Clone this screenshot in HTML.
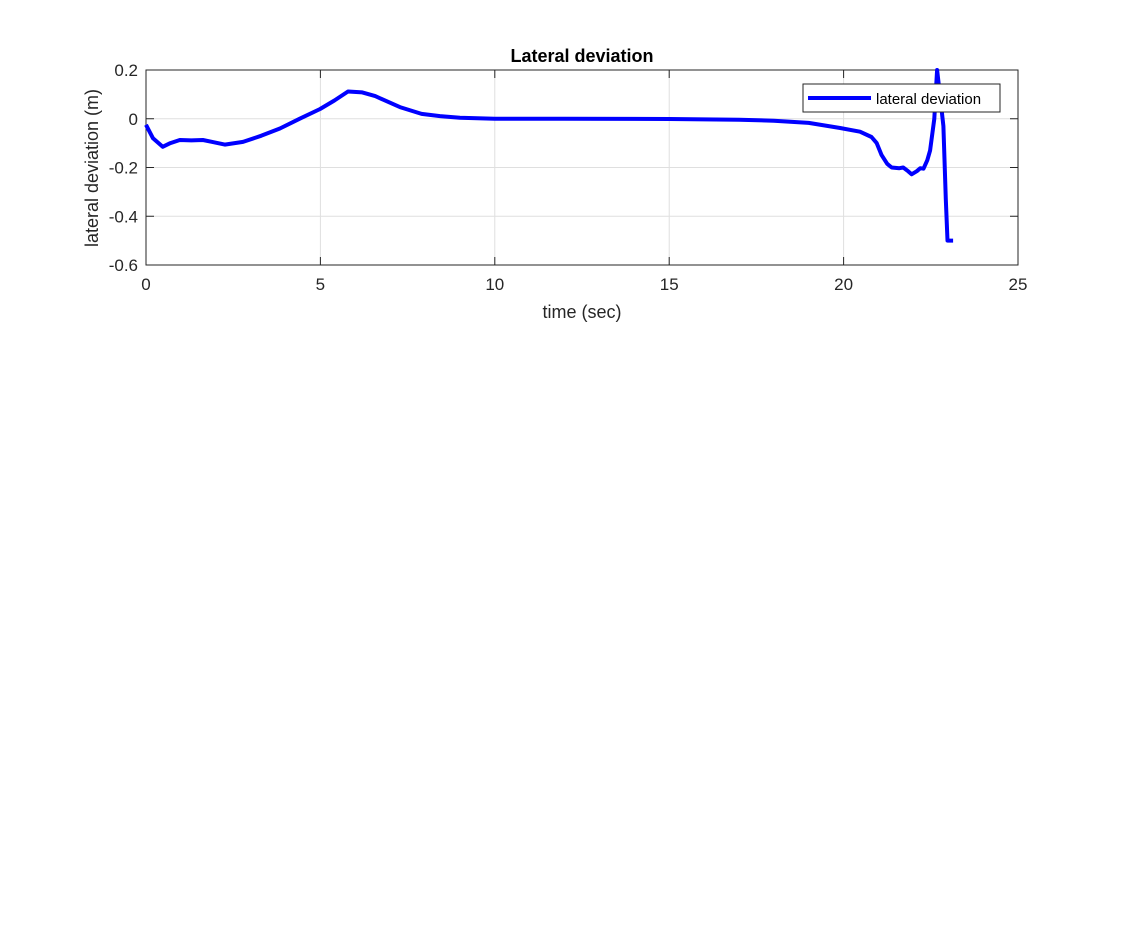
<!DOCTYPE html>
<html><head><meta charset="utf-8"><style>
body{margin:0;background:#fff;}
svg{display:block;font-family:"Liberation Sans",Arial,sans-serif;}
</style></head><body>
<svg width="1125" height="938">
<rect width="1125" height="938" fill="#fff"/>
<g id="plot"></g>
</svg>
<script>
const times=[0,0.2,0.48,0.7,0.97,1.3,1.63,1.9,2.26,2.78,3.3,3.84,4.4,4.99,5.4,5.79,6.2,6.57,7.28,7.9,8.43,9,10,12,15,17,18,19,19.9,20.47,20.8,20.95,21.09,21.25,21.38,21.6,21.71,21.85,21.95,22.1,22.2,22.29,22.4,22.48,22.6,22.68,22.76,22.86,22.93,22.98,23.14];
const values=[-0.025,-0.08,-0.115,-0.1,-0.087,-0.089,-0.087,-0.095,-0.106,-0.095,-0.07,-0.04,0,0.04,0.075,0.112,0.108,0.093,0.048,0.02,0.011,0.004,0,0,-0.001,-0.004,-0.008,-0.017,-0.038,-0.053,-0.075,-0.1,-0.149,-0.185,-0.2,-0.203,-0.2,-0.215,-0.228,-0.215,-0.203,-0.205,-0.17,-0.13,0.0,0.2,0.1,-0.03,-0.33,-0.5,-0.5];
const xTicks=[0,5,10,15,20,25];
const yTicks=[-0.6,-0.4,-0.2,0,0.2];
const yTickLabels=['-0.6','-0.4','-0.2','0','0.2'];
const L=146,R=1018,T=70,B=265;
const xs=t=>L+(t-0)/(25-0)*(R-L);
const ys=v=>B-(v+0.6)/0.8*(B-T);
const NS='http://www.w3.org/2000/svg';
const g=document.getElementById('plot');
function mk(tag,attrs,txt){const e=document.createElementNS(NS,tag);for(const k in attrs)e.setAttribute(k,attrs[k]);if(txt!==undefined)e.textContent=txt;g.appendChild(e);return e;}
// grid
xTicks.forEach(t=>{const e=mk('line',{x1:xs(t),x2:xs(t),y1:T,y2:B,stroke:'#dfdfdf','stroke-width':1});

});
yTicks.forEach(v=>{const e=mk('line',{x1:L,x2:R,y1:ys(v),y2:ys(v),stroke:'#dfdfdf','stroke-width':1});

});
// axes box
const box=mk('rect',{x:L,y:T,width:R-L,height:B-T,fill:'none',stroke:'#262626','stroke-width':1});


// ticks
xTicks.forEach(t=>{
mk('line',{x1:xs(t),x2:xs(t),y1:B,y2:B-8,stroke:'#262626'});
mk('line',{x1:xs(t),x2:xs(t),y1:T,y2:T+8,stroke:'#262626'});
const e=mk('text',{x:xs(t),y:B+25,'text-anchor':'middle','font-size':17,fill:'#262626'},String(t));

});
yTicks.forEach((v,i)=>{
mk('line',{x1:L,x2:L+8,y1:ys(v),y2:ys(v),stroke:'#262626'});
mk('line',{x1:R,x2:R-8,y1:ys(v),y2:ys(v),stroke:'#262626'});
const e=mk('text',{x:L-8,y:ys(v)+6,'text-anchor':'end','font-size':17,fill:'#262626'},yTickLabels[i]);

});
// line
const d=times.map((t,i)=>(i?'L':'M')+xs(t).toFixed(1)+','+ys(values[i]).toFixed(1)).join(' ');
const p=mk('path',{d:d,fill:'none',stroke:'#0000ff','stroke-width':4,'stroke-linejoin':'round'});


// title & labels
const ti=mk('text',{x:582,y:62,'text-anchor':'middle','font-size':18,'font-weight':'bold',fill:'#000'},'Lateral deviation');


const xl=mk('text',{x:582,y:318,'text-anchor':'middle','font-size':18,fill:'#262626'},'time (sec)');


const yl=mk('text',{x:0,y:0,'text-anchor':'middle','font-size':18,fill:'#262626',transform:'translate(98,168) rotate(-90)'},'lateral deviation (m)');


// legend
const lg=mk('rect',{x:803,y:84,width:197,height:28,fill:'#fff',stroke:'#262626','stroke-width':1});


const ll=mk('line',{x1:808,x2:871,y1:98,y2:98,stroke:'#0000ff','stroke-width':4});


const lt=mk('text',{x:876,y:104,'font-size':15,fill:'#000'},'lateral deviation');


</script>
</body></html>
